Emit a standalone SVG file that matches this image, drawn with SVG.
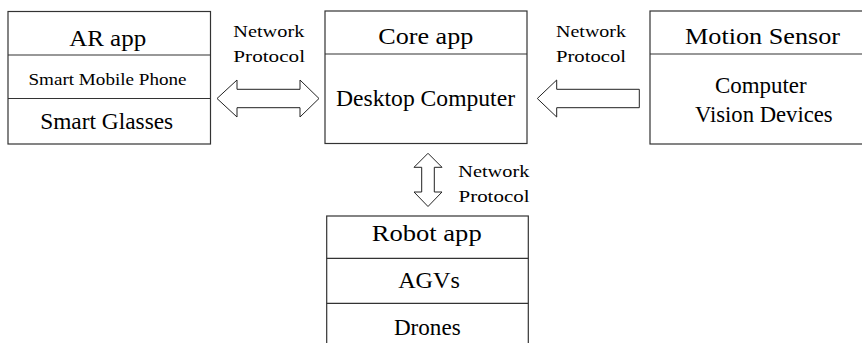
<svg xmlns="http://www.w3.org/2000/svg" width="862" height="343" viewBox="0 0 862 343">
<style>
.box{fill:#fff;stroke:#333;stroke-width:1.2}
.div{stroke:#333;stroke-width:1.2}
.arr{fill:#fff;stroke:#222;stroke-width:1}
text{font-family:"Liberation Serif","Times New Roman",serif;fill:#000;text-anchor:middle}
.h{font-size:24px}
.t{font-size:23px}
.s{font-size:17px}
</style>
<rect width="862" height="343" fill="#fff"/>
<g id="ar-app">
<rect class="box" x="8" y="11.5" width="202.5" height="132.5"/>
<line class="div" x1="8" y1="55" x2="210.5" y2="55"/>
<line class="div" x1="8" y1="98.5" x2="210.5" y2="98.5"/>
<text class="h" x="107.7" y="45.5" textLength="77" lengthAdjust="spacingAndGlyphs">AR app</text>
<text class="s" x="107.5" y="85" textLength="158" lengthAdjust="spacingAndGlyphs">Smart Mobile Phone</text>
<text class="t" x="106.7" y="129.3" textLength="133" lengthAdjust="spacingAndGlyphs">Smart Glasses</text>
</g>
<g id="core-app">
<rect class="box" x="325" y="11" width="202" height="132.5"/>
<line class="div" x1="325" y1="54" x2="527" y2="54"/>
<text class="h" x="425.8" y="44" textLength="95" lengthAdjust="spacingAndGlyphs">Core app</text>
<text class="t" x="425.5" y="106" textLength="179" lengthAdjust="spacingAndGlyphs">Desktop Computer</text>
</g>
<g id="motion-sensor">
<rect class="box" x="650" y="11" width="230" height="133"/>
<line class="div" x1="650" y1="54" x2="880" y2="54"/>
<text class="h" x="762.5" y="44" textLength="155" lengthAdjust="spacingAndGlyphs">Motion Sensor</text>
<text class="t" x="760.8" y="93.3" textLength="91.7" lengthAdjust="spacingAndGlyphs">Computer</text>
<text class="t" x="763.8" y="121.7" textLength="137.7" lengthAdjust="spacingAndGlyphs">Vision Devices</text>
</g>
<g id="robot-app">
<rect class="box" x="326.7" y="216" width="201.6" height="140"/>
<line class="div" x1="326.7" y1="258.3" x2="528.3" y2="258.3"/>
<line class="div" x1="326.7" y1="303.3" x2="528.3" y2="303.3"/>
<text class="h" x="426.7" y="240.5" textLength="110" lengthAdjust="spacingAndGlyphs">Robot app</text>
<text class="t" x="429" y="288.3" textLength="61.7" lengthAdjust="spacingAndGlyphs">AGVs</text>
<text class="t" x="427.3" y="335" textLength="66.7" lengthAdjust="spacingAndGlyphs">Drones</text>
</g>
<g id="connectors">
<polygon class="arr" points="217,98.5 237,80 237,89.3 300,89.3 300,80 319,98.5 300,117 300,107.7 237,107.7 237,117"/>
<polygon class="arr" points="537.3,98.5 556.7,80 556.7,89.3 639.3,89.3 639.3,107.7 556.7,107.7 556.7,117"/>
<polygon class="arr" points="428,153.3 442,167.3 434.3,167.3 434.3,192 442,192 428,206.5 414,192 421.7,192 421.7,167.3 414,167.3"/>
<text class="s" x="268.8" y="37.3" textLength="71" lengthAdjust="spacingAndGlyphs">Network</text>
<text class="s" x="269.2" y="61.7" textLength="71.7" lengthAdjust="spacingAndGlyphs">Protocol</text>
<text class="s" x="591" y="37.3" textLength="70" lengthAdjust="spacingAndGlyphs">Network</text>
<text class="s" x="591" y="61.7" textLength="70" lengthAdjust="spacingAndGlyphs">Protocol</text>
<text class="s" x="493.8" y="176.7" textLength="71" lengthAdjust="spacingAndGlyphs">Network</text>
<text class="s" x="494" y="201.7" textLength="71" lengthAdjust="spacingAndGlyphs">Protocol</text>
</g>
</svg>
